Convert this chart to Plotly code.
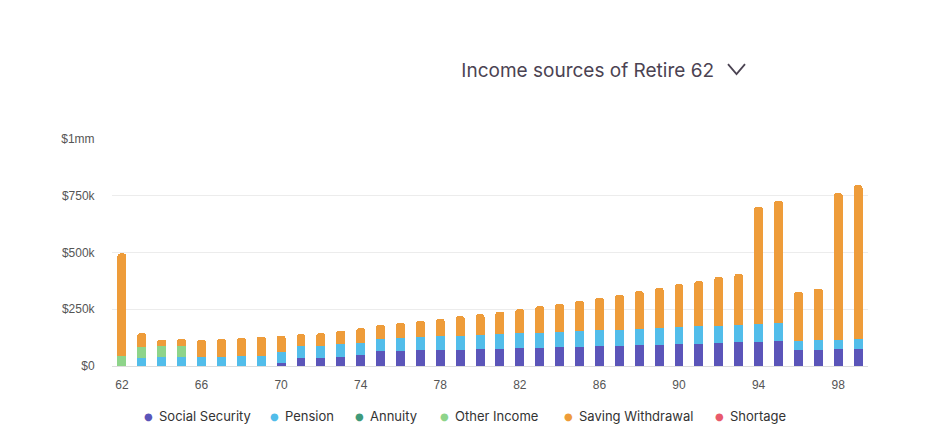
import plotly.graph_objects as go

# ages on the x axis
ages = list(range(62, 100))

# income by source, in $k
social_security = [0, 0, 0, 0, 0, 0, 0, 0, 15, 37, 37, 41, 50, 67, 67, 72, 72, 72, 76, 76,
                   81, 81, 85, 85, 89, 89, 94, 94, 98, 98, 103, 107, 107, 111, 72, 72, 76, 76]
pension = [0, 37, 40, 40, 40, 40, 44, 44, 45, 51, 51, 54, 51, 53, 58, 57, 59, 61, 62, 66,
           63, 66, 66, 69, 68, 71, 70, 73, 75, 80, 75, 75, 79, 80, 39, 44, 40, 44]
annuity = [0] * 38
other_income = [42, 45, 48, 48, 0, 0, 0, 0, 0, 0, 0, 0, 0, 0, 0, 0, 0, 0, 0, 0,
                0, 0, 0, 0, 0, 0, 0, 0, 0, 0, 0, 0, 0, 0, 0, 0, 0, 0]
saving_withdrawal = [454, 63, 28, 32, 76, 80, 81, 85, 73, 53, 57, 61, 66, 61, 64, 71, 76, 87, 91, 97,
                     107, 117, 123, 132, 143, 153, 166, 177, 188, 196, 214, 223, 516, 536, 215, 225, 646, 677]
shortage = [0] * 38

series = [
    ("Social Security", social_security, "#5b55b9"),
    ("Pension", pension, "#52bdea"),
    ("Annuity", annuity, "#3f9a7a"),
    ("Other Income", other_income, "#8ed48a"),
    ("Saving Withdrawal", saving_withdrawal, "#ee9c3a"),
    ("Shortage", shortage, "#e85a6c"),
]

y_ticks = [0, 250000, 500000, 750000, 1000000]
y_labels = ["$0", "$250k", "$500k", "$750k", "$1mm"]

fig = go.Figure()

for name, vals, color in series:
    # empty segments left out so the rounded top lands on the real top segment
    fig.add_trace(go.Bar(x=ages, y=[v * 1000 if v else None for v in vals], name=name,
                         marker=dict(color=color, line=dict(width=0)),
                         width=0.45, showlegend=False,
                         hovertemplate="%{x}: $%{y:,.0f}<extra>" + name + "</extra>"))

# page adds ~8px body margin, so the plot box is nudged up/left by that much
fig.update_layout(
    width=929, height=436,
    barmode="stack",
    barcornerradius=3,
    plot_bgcolor="white",
    paper_bgcolor="white",
    showlegend=False,
    margin=dict(l=104, r=69, t=131, b=78),
    font=dict(family="Liberation Sans, Arial, sans-serif", size=12, color="#555"),
    title=dict(text="Income sources of Retire 62",
               font=dict(family="Inter, Lato, sans-serif", size=19, color="#4b4352"),
               x=0.624, xref="container", xanchor="center",
               y=0.856, yref="container", yanchor="middle"),
    xaxis=dict(range=[61.5, 99.5], tickmode="linear", tick0=62, dtick=4,
               showgrid=False, showline=True, linecolor="#ddd", linewidth=1,
               ticks="outside", ticklen=8, tickcolor="white",
               fixedrange=True, tickfont=dict(size=12, color="#555")),
    yaxis=dict(range=[0, 1000000], tickvals=y_ticks, ticktext=y_labels,
               showgrid=True, gridcolor="#ececec", zeroline=False,
               ticks="outside", ticklen=14, tickcolor="white",
               fixedrange=True, tickfont=dict(size=12, color="#555")),
)

# legend drawn as text: dot + label, placed like the original
legend_x = [148, 274, 359, 444, 568, 719]
for (name, vals, color), px in zip(series, legend_x):
    fig.add_annotation(xref="paper", yref="paper", x=(px - 112) / 756, y=(366 - 416) / 227,
                       text="●", showarrow=False, xanchor="center", yanchor="middle",
                       font=dict(family="DejaVu Sans", size=10, color=color))
    fig.add_annotation(xref="paper", yref="paper", x=(px + 9 - 112) / 756, y=(366 - 416) / 227,
                       text=name, showarrow=False, xanchor="left", yanchor="middle",
                       font=dict(family="Inter, sans-serif", size=13, color="#333"))

# dropdown chevron next to title
fig.add_shape(type="path", xref="paper", yref="paper",
              path="M 0.8148,1.330 L 0.8261,1.286 L 0.8373,1.330",
              line=dict(color="#4b4352", width=1.8))

fig.write_html("out.html")
